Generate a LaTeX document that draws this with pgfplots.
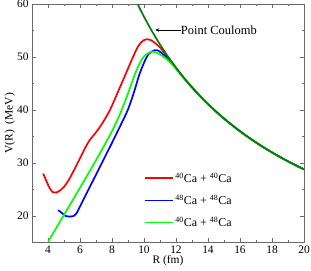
\documentclass[border=0pt]{standalone}
\usepackage{pgfplots}
\pgfplotsset{compat=1.18}
\usetikzlibrary{arrows.meta}
\usepackage{fontspec}
\setmainfont{Liberation Serif}
\definecolor{axgray}{RGB}{105,105,105}
\definecolor{cgreen}{RGB}{0,128,0}
\definecolor{lgreen}{RGB}{0,255,0}
\begin{document}
\begin{tikzpicture}[x=1bp,y=1bp]
\useasboundingbox (-32,-28.5) rectangle (279,242.5);
\begin{axis}[
  scale only axis, width=272bp, height=238.5bp,
  xmin=3, xmax=20, ymin=15, ymax=60,
  xtick={4,6,...,20}, ytick={20,30,...,60},
  minor x tick num=1, minor y tick num=1,
  tick align=inside,
  major tick length=4bp, minor tick length=2.5bp,
  axis line style={axgray, line width=0.9pt},
  every tick/.style={axgray, line width=0.7pt},
  tick label style={font=\fontsize{11.5}{13}\selectfont, black},
  /pgf/number format/assume math mode=true,
  xlabel={R (fm)}, ylabel={V(R)\ \ (MeV)},
  label style={font=\fontsize{11.5}{13}\selectfont},
  xlabel style={yshift=5bp},
  ylabel style={yshift=-5bp},
  legend style={draw=none, fill=none, at={(rel axis cs:0.399,0.31)}, anchor=north west,
    font=\fontsize{12}{14}\selectfont, row sep=7bp},
  legend cell align=left,
  legend image code/.code={\draw[#1] (0bp,0bp) -- (28bp,0bp);},
]
\addplot[red, line width=1.7pt, smooth] coordinates {
(3.7,28.0)(3.9,26.6)(4.1,25.3)(4.3,24.5)(4.5,24.4)(4.7,24.7)(5.0,25.5)(5.3,26.8)(5.6,28.5)(6.0,30.9)(6.3,32.7)(6.6,34.3)(6.9,35.4)(7.2,36.6)(7.5,38.0)(7.875,40.0)(8.3,42.9)(8.6,45.0)(8.9,47.1)(9.3,49.9)(9.65,52.1)(9.95,53.1)(10.2,53.35)(10.45,53.15)(10.7,52.6)(11.0,51.8)(11.5,49.9)(12.0,47.9)(12.5,46.0)(13,44.25)(14,41.1)(15,38.38)(16,35.98)(17,33.87)(18,31.99)(19,30.31)(20,28.79)};
\addlegendentry{$^{\mathrm{40}}$Ca + $^{\mathrm{40}}$Ca}
\addplot[blue, line width=1.7pt, smooth] coordinates {
(4.64,21.1)(4.9,20.5)(5.1,20.0)(5.3,19.9)(5.6,20.0)(5.8,20.6)(6.0,21.8)(6.5,24.8)(7.0,27.8)(7.5,30.8)(8.0,33.8)(8.5,36.9)(9.0,40.1)(9.4,43.6)(9.7,46.6)(10.0,48.9)(10.3,50.6)(10.69,51.3)(11.0,51.0)(11.5,49.6)(12.0,47.85)(12.5,46.0)(13,44.25)(14,41.1)(15,38.38)(16,35.98)(17,33.87)(18,31.99)(19,30.31)(20,28.79)};
\addlegendentry{$^{\mathrm{48}}$Ca + $^{\mathrm{48}}$Ca}
\addplot[lgreen, line width=1.7pt, smooth] coordinates {
(4.02,15.2)(5.0,20.2)(6.0,25.3)(7.0,30.5)(7.5,33.2)(8.0,36.0)(8.5,39.2)(9.0,43.1)(9.44,46.8)(9.8,49.2)(10.1,50.4)(10.48,51.0)(10.8,50.8)(11.2,50.1)(11.6,49.1)(12.0,47.8)(12.5,45.95)(13,44.25)(14,41.1)(15,38.38)(16,35.98)(17,33.87)(18,31.99)(19,30.31)(20,28.79)};
\addlegendentry{$^{\mathrm{40}}$Ca + $^{\mathrm{48}}$Ca}
\addplot[cgreen, line width=1.7pt, smooth, forget plot] coordinates {
(9.6,60.0)(9.8,58.78)(10.0,57.6)(10.25,56.2)(10.5,54.86)(11.0,52.36)(11.5,50.09)(12.0,48.0)(12.5,46.08)(13.0,44.31)(13.5,42.67)(14.0,41.14)(14.5,39.72)(15.0,38.4)(15.5,37.16)(16.0,36.0)(16.5,34.91)(17.0,33.88)(17.5,32.91)(18.0,32.0)(18.5,31.14)(19.0,30.32)(19.5,29.54)(20.0,28.8)};
\draw[-{Stealth[length=4bp,width=3.5bp]}, line width=0.6pt] (axis cs:12.3,55.1) -- (axis cs:10.7,55.1);
\node[anchor=west, font=\fontsize{12.5}{14}\selectfont, inner sep=0pt] at (axis cs:12.3,55.1) {Point Coulomb};
\end{axis}
\end{tikzpicture}
\end{document}
